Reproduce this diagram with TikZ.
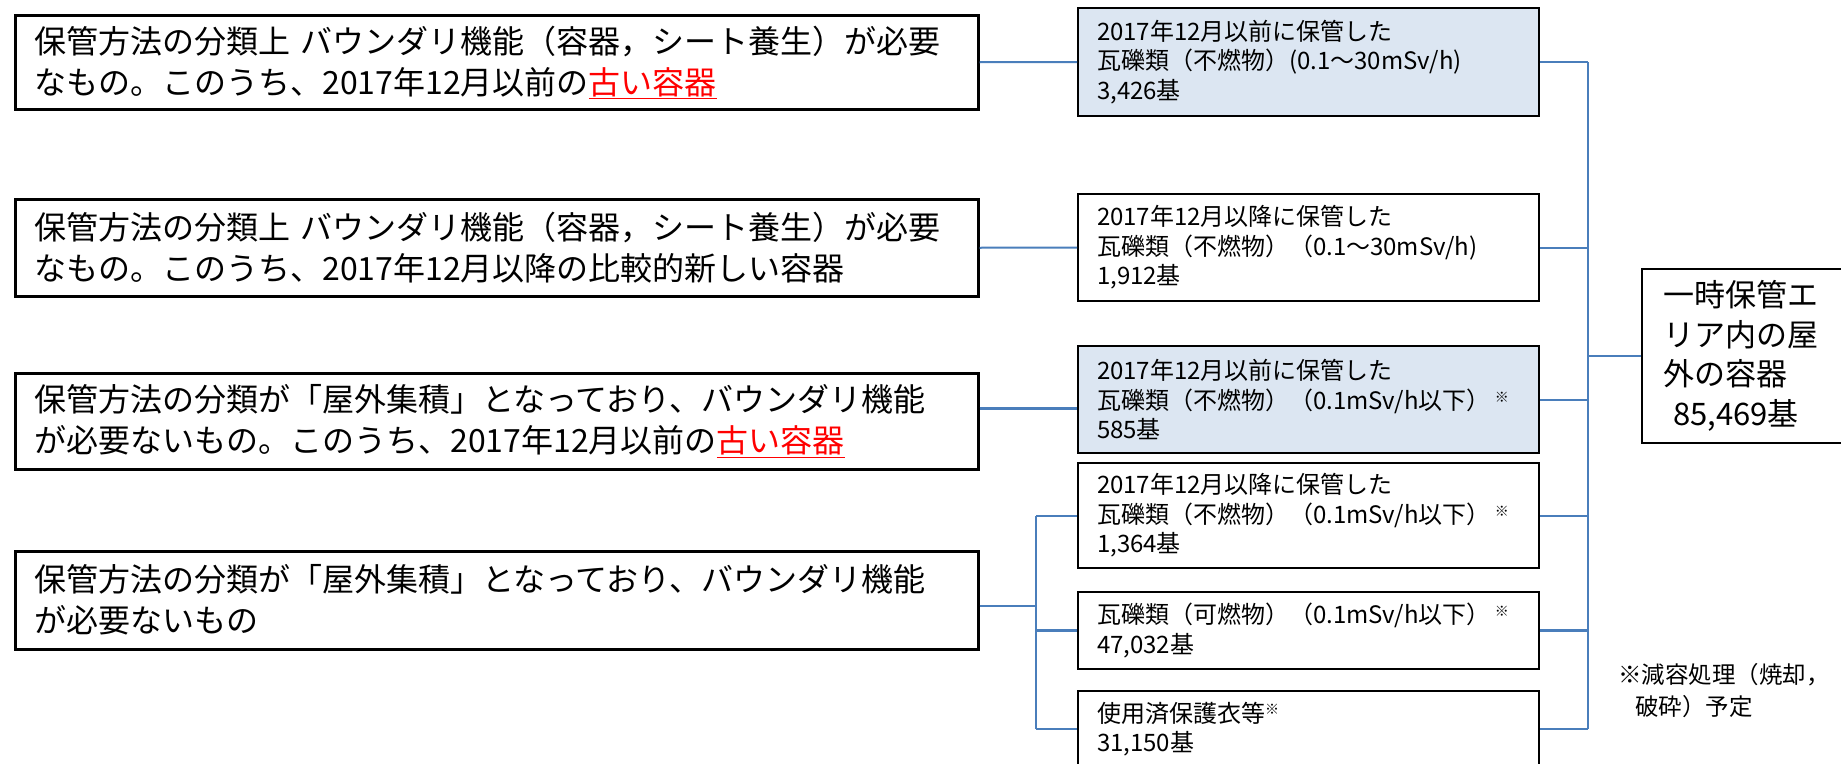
\documentclass[tikz,border=0pt]{standalone}
\usepackage{fontspec}
\setmainfont{Noto Sans CJK JP}
\definecolor{boxblue}{HTML}{DCE6F2}
\definecolor{linkblue}{HTML}{4A7EBB}
\newcommand{\mynote}{\hspace{4pt}\raisebox{7pt}{\fontsize{14}{14}\selectfont ※}}
\newcommand{\mynotetight}{\raisebox{8pt}{\fontsize{14}{14}\selectfont ※}}
\begin{document}
\begin{tikzpicture}[x=1pt,y=-1pt,
  lbox/.style={draw=black, line width=2.5pt, anchor=north west, inner xsep=19pt, inner ysep=0pt,
    text width=925pt, align=left, font=\fontsize{32}{41}\selectfont},
  mbox/.style={draw=black, line width=2pt, anchor=north west, inner xsep=19pt, inner ysep=0pt,
    text width=423pt, align=left, font=\fontsize{24}{29.5}\selectfont},
  bluebox/.style={mbox, fill=boxblue},
  rbox/.style={draw=black, line width=2pt, anchor=north west, inner xsep=21pt, inner ysep=0pt,
    text width=178pt, align=left, font=\fontsize{31}{39.5}\selectfont},
  notetext/.style={anchor=west, inner sep=0pt, align=left, font=\fontsize{23.5}{32}\selectfont},
  conn/.style={draw=linkblue, line width=2pt},
  thickconn/.style={draw=linkblue, line width=2.8pt},
]
\path[use as bounding box, fill=white] (0,0) rectangle (1841,763);

% left boxes
\node[lbox, minimum height=94pt] (L1) at (14,14) {保管方法の分類上~バウンダリ機能（容器，シート養生）が必要\\なもの。このうち、2017年12月以前の\textcolor{red}{\underline{古い容器}}};
\node[lbox, minimum height=97pt] (L2) at (14,198) {保管方法の分類上~バウンダリ機能（容器，シート養生）が必要\\なもの。このうち、2017年12月以降の比較的新しい容器};
\node[lbox, minimum height=96pt] (L3) at (14,372) {保管方法の分類が「屋外集積」となっており、バウンダリ機能\\が必要ないもの。このうち、2017年12月以前の\textcolor{red}{\underline{古い容器}}};
\node[lbox, minimum height=98pt] (L4) at (14,550) {保管方法の分類が「屋外集積」となっており、バウンダリ機能\\が必要ないもの};

% middle boxes
\node[bluebox, minimum height=108pt] (M1) at (1077,7) {2017年12月以前に保管した\\瓦礫類（不燃物）(0.1～30mSv/h)\\3,426基};
\node[mbox, minimum height=107pt] (M2) at (1077,193) {2017年12月以降に保管した\\瓦礫類（不燃物）（0.1～30mSv/h)\\1,912基};
\node[bluebox, minimum height=107pt] (M3) at (1077,345) {2017年12月以前に保管した\\瓦礫類（不燃物）（0.1mSv/h以下）\mynote\\585基};
\node[mbox, minimum height=105pt] (M4) at (1077,462) {2017年12月以降に保管した\\瓦礫類（不燃物）（0.1mSv/h以下）\mynote\\1,364基};
\node[mbox, minimum height=77pt] (M5) at (1077,591) {瓦礫類（可燃物）（0.1mSv/h以下）\mynote\\47,032基};
\node[mbox, minimum height=76pt] (M6) at (1077,690) {使用済保護衣等\mynotetight\\31,150基};

% right box
\node[rbox, minimum height=174pt] (R) at (1641,268) {一時保管エ\\リア内の屋\\外の容器\\\hspace*{10pt}85,469基};

% footnote
\node[notetext] (N) at (1618,691) {※減容処理（焼却，\\\hspace*{17pt}破砕）予定};

% buses
\coordinate (lbus) at (1036,0);
\coordinate (rbus) at (1588,0);

% left connectors
\draw[conn] (L1.east) -- (M1.west);
\draw[conn] (L2.east) -- (M2.west);
\draw[thickconn] ([yshift=13pt]L3.east) -- ([yshift=13pt]L3.east -| M3.west);
\draw[conn] ([yshift=-6pt]L4.east) -- ([yshift=-6pt]L4.east -| lbus);
\draw[conn] (M4.west -| lbus) -- (M6.west -| lbus);
\draw[conn] (M4.west -| lbus) -- (M4.west);
\draw[thickconn] (M5.west -| lbus) -- (M5.west);
\draw[thickconn] (M6.west -| lbus) -- (M6.west);

% right connectors
\draw[conn] (M1.east -| rbus) -- (M6.east -| rbus);
\draw[conn] (M1.east) -- (M1.east -| rbus);
\draw[conn] (M2.east) -- (M2.east -| rbus);
\draw[conn] (M3.east) -- (M3.east -| rbus);
\draw[conn] (M4.east) -- (M4.east -| rbus);
\draw[thickconn] (M5.east) -- (M5.east -| rbus);
\draw[thickconn] (M6.east) -- (M6.east -| rbus);
\draw[thickconn] (R.west -| rbus) -- (R.west);
\end{tikzpicture}
\end{document}
